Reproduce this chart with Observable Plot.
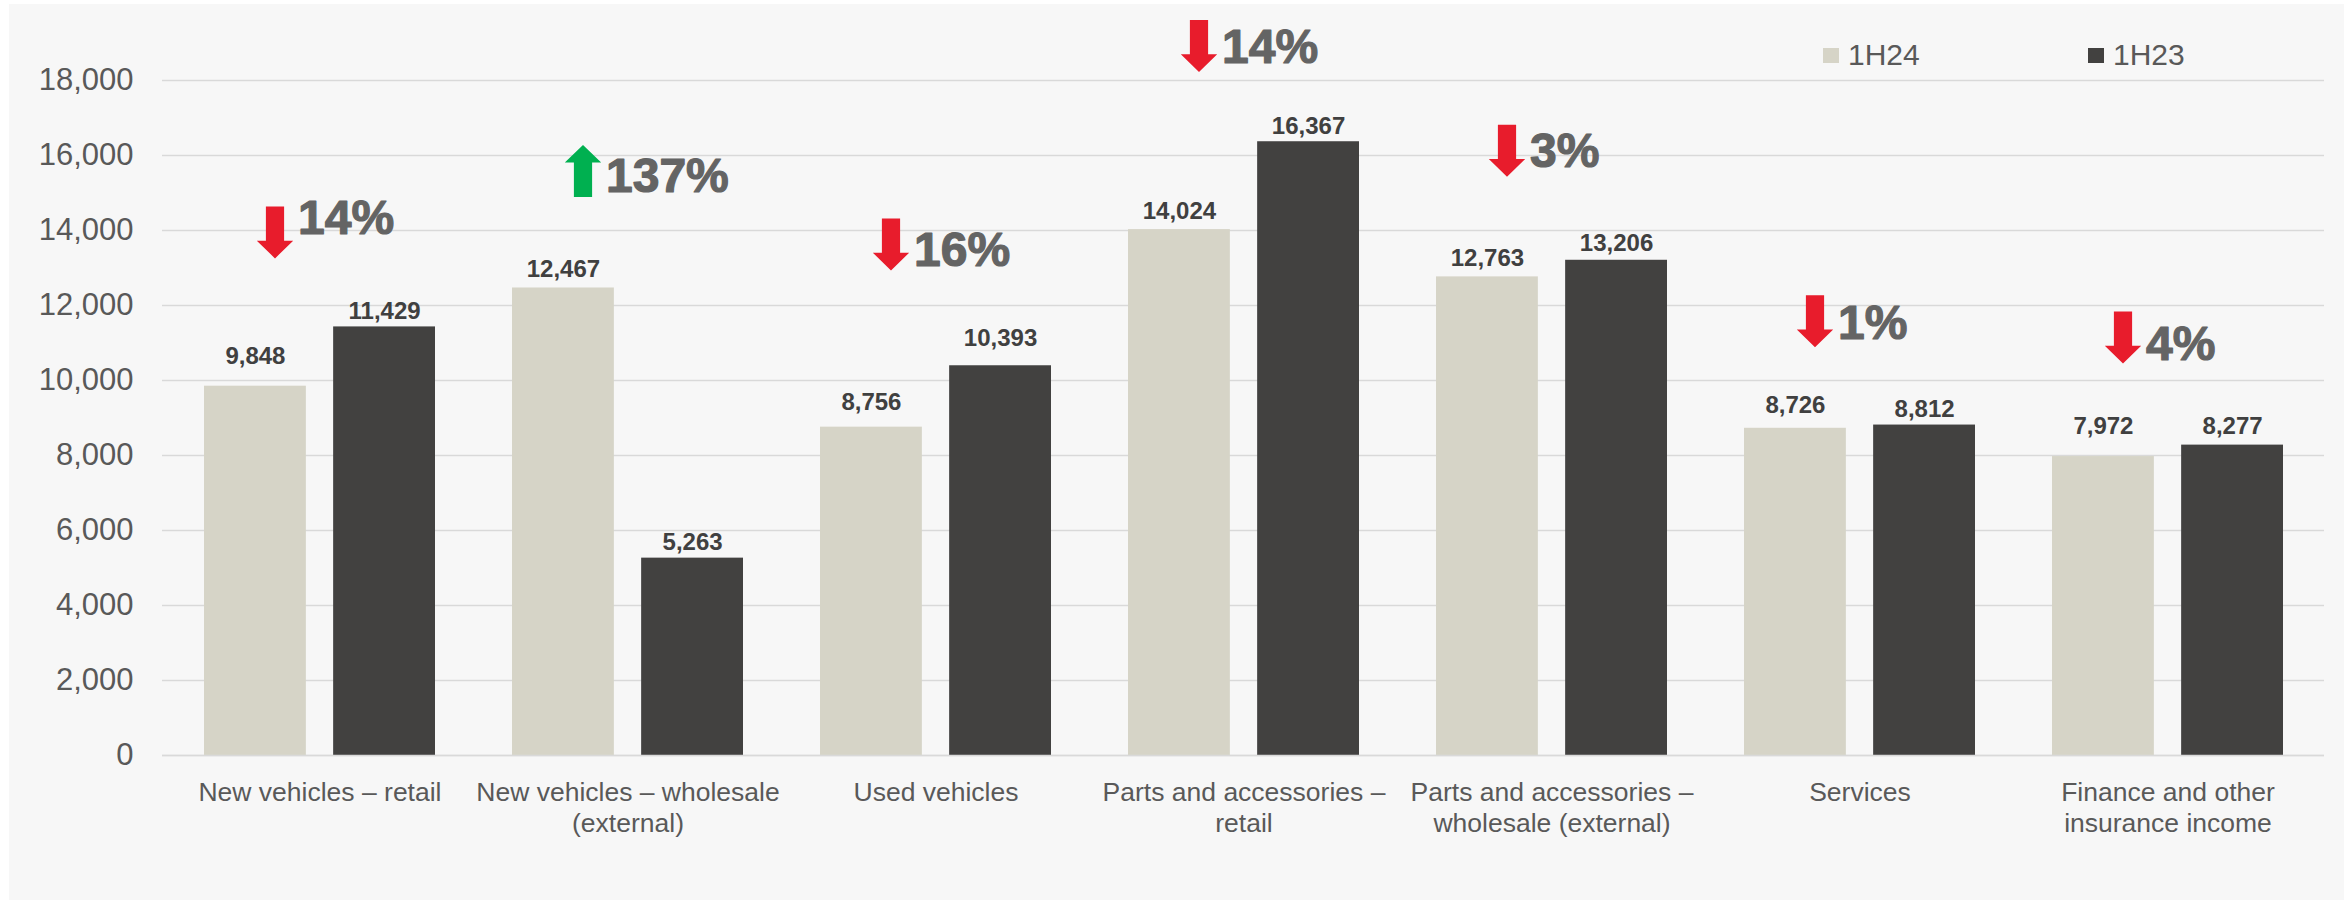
<!DOCTYPE html>
<html>
<head>
<meta charset="utf-8">
<script src="https://cdn.jsdelivr.net/npm/d3@7"></script>
<script src="https://cdn.jsdelivr.net/npm/@observablehq/plot@0.6"></script>
<style>
  html, body { margin: 0; padding: 0; background: #ffffff; }
  #wrap { position: relative; width: 2351px; height: 900px; overflow: hidden; font-family: "Liberation Sans", Arial, sans-serif; }
  #panel { position: absolute; left: 9px; top: 4px; width: 2335px; height: 896px; background: #f7f7f7; }
  #chart { position: absolute; left: 0; top: 0; }
  .leg { position: absolute; font-size: 30px; line-height: 30px; color: #595959; white-space: nowrap; }
  .sw { position: absolute; width: 16px; height: 15px; }
</style>
</head>
<body>
<div id="wrap">
  <div id="panel"></div>
  <div id="chart"></div>
  <div class="sw" style="left:1823px;top:48px;background:#d6d4c7"></div>
  <div class="leg" style="left:1848px;top:40px">1H24</div>
  <div class="sw" style="left:2088px;top:48px;background:#424140"></div>
  <div class="leg" style="left:2113px;top:40px">1H23</div>
</div>
<script>
// ---- data ----
const categories = [
  "New vehicles – retail",
  "New vehicles – wholesale (external)",
  "Used vehicles",
  "Parts and accessories – retail",
  "Parts and accessories – wholesale (external)",
  "Services",
  "Finance and other insurance income"
];
const tickLabels = [
  "New vehicles – retail",
  "New vehicles – wholesale\n(external)",
  "Used vehicles",
  "Parts and accessories –\nretail",
  "Parts and accessories –\nwholesale (external)",
  "Services",
  "Finance and other\ninsurance income"
];
const series = ["1H24", "1H23"];
const values1H24 = [9848, 12467, 8756, 14024, 12763, 8726, 7972];
const values1H23 = [11429, 5263, 10393, 16367, 13206, 8812, 8277];
// level (value units) at which each value label sits, as placed in the source chart
const labelLevel1H24 = [10435, 12760, 9210, 14317, 13056, 9145, 8565];
const labelLevel1H23 = [11642, 5476, 10910, 16572, 13466, 9025, 8565];
const changePct = [-14, 137, -16, -14, -3, -1, -4];
// annotation levels (value units) for the change arrows and their labels
const arrowLevel = [13950, 15590, 13630, 18920, 16130, 11580, 11150];
const labelLevel = [13920, 15020, 13060, 18470, 15690, 11120, 10560];
const yTicks = [0, 2000, 4000, 6000, 8000, 10000, 12000, 14000, 16000, 18000];

// ---- tables ----
const bars = [];
categories.forEach((c, i) => {
  bars.push({category: c, series: "1H24", value: values1H24[i], labelY: labelLevel1H24[i]});
  bars.push({category: c, series: "1H23", value: values1H23[i], labelY: labelLevel1H23[i]});
});
const notes = categories.map((c, i) => ({
  category: c, change: changePct[i], arrowY: arrowLevel[i], labelY: labelLevel[i]
}));

// ---- layout ----
const W = 2351, H = 900;
const mL = 162, mR = 27, mT = 80, mB = 145;
const pInner = 0.25, pOuter = 0.125;
const step = (W - mL - mR) / (categories.length - pInner + 2 * pOuter);
const bandW = step * (1 - pInner);
const barW = 102.5;
const inset = bandW - barW;
const off = (bandW - barW) / 2;

const colors = {"1H24": "#d6d4c7", "1H23": "#424140"};

const downArrow = {
  draw(ctx, size) {
    const r = Math.sqrt(size / Math.PI), h = 2 * r;
    const sw = 0.175 * h, hw = 0.35 * h, hh = 0.34 * h;
    ctx.moveTo(-sw, -r); ctx.lineTo(sw, -r); ctx.lineTo(sw, r - hh);
    ctx.lineTo(hw, r - hh); ctx.lineTo(0, r); ctx.lineTo(-hw, r - hh);
    ctx.lineTo(-sw, r - hh); ctx.closePath();
  }
};
const upArrow = {
  draw(ctx, size) {
    const r = Math.sqrt(size / Math.PI), h = 2 * r;
    const sw = 0.175 * h, hw = 0.35 * h, hh = 0.34 * h;
    ctx.moveTo(-sw, r); ctx.lineTo(sw, r); ctx.lineTo(sw, -r + hh);
    ctx.lineTo(hw, -r + hh); ctx.lineTo(0, -r); ctx.lineTo(-hw, -r + hh);
    ctx.lineTo(-sw, -r + hh); ctx.closePath();
  }
};

const arrowDx = -45;
const fmt = d3.format(",");

const chart = Plot.plot({
  width: W, height: H,
  marginLeft: mL, marginRight: mR, marginTop: mT, marginBottom: mB,
  style: {background: "transparent", fontFamily: "'Liberation Sans', Arial, sans-serif", overflow: "visible"},
  x: {domain: categories, paddingInner: pInner, paddingOuter: pOuter, label: null},
  y: {domain: [0, 18000], label: null},
  marks: [
    Plot.gridY(yTicks, {stroke: "#d9d9d9", strokeOpacity: 1, strokeWidth: 1.6}),
    Plot.barY(bars.filter(d => d.series === "1H24"), {x: "category", y: "value", fill: colors["1H24"], insetRight: inset}),
    Plot.barY(bars.filter(d => d.series === "1H23"), {x: "category", y: "value", fill: colors["1H23"], insetLeft: inset}),
    Plot.text(bars.filter(d => d.series === "1H24"), {x: "category", y: "labelY", text: d => fmt(d.value), dx: -off, lineAnchor: "bottom", fontSize: 24, fontWeight: "bold", fill: "#404040"}),
    Plot.text(bars.filter(d => d.series === "1H23"), {x: "category", y: "labelY", text: d => fmt(d.value), dx: off, lineAnchor: "bottom", fontSize: 24, fontWeight: "bold", fill: "#404040"}),
    Plot.dot(notes.filter(d => d.change < 0), {x: "category", y: "arrowY", r: 26, symbol: downArrow, fill: "#e81c2c", stroke: "none", dx: arrowDx}),
    Plot.dot(notes.filter(d => d.change > 0), {x: "category", y: "arrowY", r: 26, symbol: upArrow, fill: "#00b050", stroke: "none", dx: arrowDx}),
    Plot.text(notes, {x: "category", y: "labelY", text: d => Math.abs(d.change) + "%", dx: arrowDx + 23, textAnchor: "start", lineAnchor: "bottom", fontSize: 48, fontWeight: "bold", fill: "#646464", stroke: "#646464", strokeWidth: 1.2}),
    Plot.axisY({ticks: yTicks, tickFormat: d => fmt(d), tickSize: 0, tickPadding: 29, fontSize: 31, color: "#595959", label: null}),
    Plot.axisX({tickSize: 0, tickPadding: 23, fontSize: 26.5, lineHeight: 1.17, color: "#595959", label: null,
      tickFormat: d => tickLabels[categories.indexOf(d)]}),
    Plot.ruleY([0], {stroke: "#d9d9d9", strokeWidth: 1.6})
  ]
});
document.getElementById("chart").appendChild(chart);
</script>
</body>
</html>
